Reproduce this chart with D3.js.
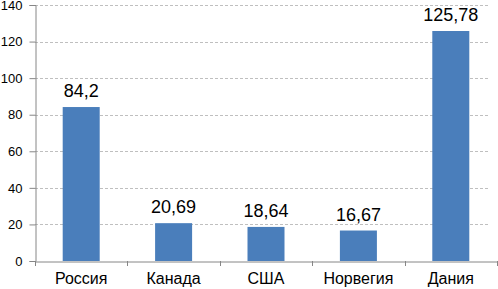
<!DOCTYPE html>
<meta charset="utf-8">
<head>
<style>
body { margin: 0; background: #fff; }
svg { display: block; font-family: "Liberation Sans", Arial, sans-serif; }
.grid line { stroke: #bfbfbf; stroke-dasharray: 3,2; }
.axis text { fill: #000; }
</style>
<script src="https://d3js.org/d3.v7.min.js"></script>
</head>
<body>
<svg width="498" height="289"></svg>
<script>

var countries = ["Россия", "Канада", "США", "Норвегия", "Дания"];
var values = [84.2, 20.69, 18.64, 16.67, 125.78];
var valueLabels = ["84,2", "20,69", "18,64", "16,67", "125,78"];
var yTicks = [0, 20, 40, 60, 80, 100, 120, 140];

var svg = d3.select("svg");
var plotLeft = 35, plotRight = 497, plotTop = 5, plotBottom = 261;

var xb = d3.scaleBand().domain(countries).range([plotLeft, plotRight]);

var y = d3.scaleLinear()
    .domain([0, 140])
    .range([plotBottom, plotTop]);

// grid
svg.append("g")
    .attr("class", "grid")
  .selectAll("line")
  .data(yTicks.filter(function(d) { return d > 0; }))
  .enter().append("line")
    .attr("x1", plotLeft)
    .attr("x2", 490)
    .attr("y1", function(d) { return Math.round(y(d)) + 0.5; })
    .attr("y2", function(d) { return Math.round(y(d)) + 0.5; });

// bars
svg.append("g")
  .selectAll("rect")
  .data(values)
  .enter().append("rect")
    .attr("x", function(d, i) { return xb(countries[i]) + xb.bandwidth() / 2 - 18.5; })
    .attr("width", 37)
    .attr("y", function(d) { return y(d); })
    .attr("height", function(d) { return plotBottom - y(d); })
    .attr("fill", "#4a7ebb");

// value labels
svg.append("g")
  .selectAll("text")
  .data(values)
  .enter().append("text")
    .attr("x", function(d, i) { return xb(countries[i]) + xb.bandwidth() / 2; })
    .attr("y", function(d) { return y(d) - 10; })
    .attr("text-anchor", "middle")
    .attr("font-size", "18px")
    .text(function(d, i) { return valueLabels[i]; });

// y axis
var yAxis = svg.append("g")
    .attr("class", "axis")
    .attr("transform", "translate(" + (plotLeft + 0.5) + ",0)")
    .call(d3.axisLeft(y).tickValues(yTicks).tickSize(6).tickPadding(7));
yAxis.selectAll("text").attr("font-size", "13px").attr("font-family", "Liberation Sans, Arial, sans-serif");
yAxis.select(".domain").attr("stroke", "#868686");
yAxis.selectAll(".tick line").attr("stroke", "#868686");

// x axis
var xAxis = svg.append("g")
    .attr("class", "axis")
    .attr("transform", "translate(0," + (plotBottom + 0.5) + ")")
    .call(d3.axisBottom(xb).tickSize(0).tickPadding(11));
xAxis.selectAll("text").attr("font-size", "16px").attr("font-family", "Liberation Sans, Arial, sans-serif");
xAxis.select(".domain").attr("stroke", "#868686");

// tick marks between categories
svg.append("g")
  .selectAll("line")
  .data(countries.concat(["end"]))
  .enter().append("line")
    .attr("x1", function(d, i) { return Math.round(plotLeft + i * xb.step()) + 0.5; })
    .attr("x2", function(d, i) { return Math.round(plotLeft + i * xb.step()) + 0.5; })
    .attr("y1", plotBottom)
    .attr("y2", plotBottom + 5)
    .attr("stroke", "#868686");

</script>
</body>
